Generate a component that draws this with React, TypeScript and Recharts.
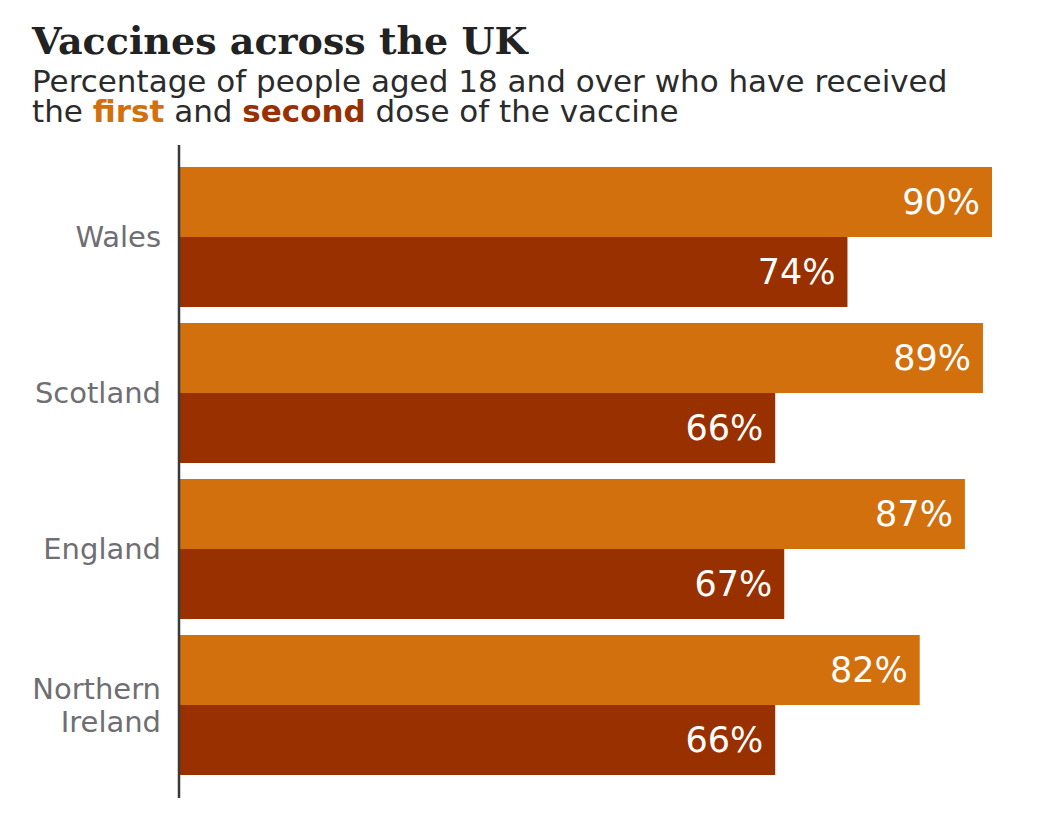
import React from 'react';
import { BarChart, Bar, XAxis, YAxis, LabelList } from 'recharts';

const categories = ['Wales', 'Scotland', 'England', 'Northern Ireland'];
const firstDose = [90, 89, 87, 82];
const secondDose = [74, 66, 67, 66];

const data = categories.map((name, i) => ({ name, first: firstDose[i], second: secondDose[i] }));

const ORANGE = '#d2700e';
const DARKRED = '#983000';
const SANS = '"DejaVu Sans", sans-serif';

const Tick = (props: any) => {
  const { x, y, payload } = props;
  const words = String(payload.value) === 'Northern Ireland' ? ['Northern', 'Ireland'] : [String(payload.value)];
  const lh = 33;
  const startDy = -((words.length - 1) * lh) / 2;
  return (
    <text x={x} y={y} textAnchor="end" fill="#6e6e73" fontFamily={SANS} fontSize={29} dominantBaseline="central">
      {words.map((w, i) => (
        <tspan key={w} x={x} dy={i === 0 ? startDy : lh}>{w}</tspan>
      ))}
    </text>
  );
};

export default function App() {
  return (
    <div style={{ position: 'absolute', left: 0, top: 0, width: 1057, height: 815, background: '#fff' }}>
      <div style={{ position: 'absolute', left: 32, top: 16, fontFamily: '"DejaVu Serif", serif', fontWeight: 700, fontSize: 38, color: '#222', whiteSpace: 'nowrap', lineHeight: '50px' }}>
        Vaccines across the UK
      </div>
      <div style={{ position: 'absolute', left: 32, top: 66, fontFamily: SANS, fontSize: 31, color: '#2b2b2b', lineHeight: '30px', whiteSpace: 'nowrap' }}>
        <div>Percentage of people aged 18 and over who have received</div>
        <div>the <b style={{ color: ORANGE }}>first</b> and <b style={{ color: DARKRED }}>second</b> dose of the vaccine</div>
      </div>
      <div style={{ position: 'absolute', left: 0, top: 0 }}>
        <BarChart
          width={1057}
          height={815}
          data={data}
          layout="vertical"
          margin={{ top: 145, right: 65, bottom: 17, left: 0 }}
          barCategoryGap={8}
          barGap={0}
        >
          <XAxis type="number" domain={[0, 90]} hide />
          <YAxis
            type="category"
            dataKey="name"
            width={179}
            padding={{ top: 14, bottom: 15 }}
            axisLine={{ stroke: '#3a3a3a', strokeWidth: 2.5 }}
            tickLine={false}
            tick={<Tick />}
            tickMargin={12}
          />
          <Bar dataKey="first" fill={ORANGE} isAnimationActive={false}>
            <LabelList dataKey="first" position="insideRight" offset={12} fill="#fff" fontFamily={SANS} fontSize={35} formatter={(v: any) => `${v}%`} />
          </Bar>
          <Bar dataKey="second" fill={DARKRED} isAnimationActive={false}>
            <LabelList dataKey="second" position="insideRight" offset={12} fill="#fff" fontFamily={SANS} fontSize={35} formatter={(v: any) => `${v}%`} />
          </Bar>
        </BarChart>
      </div>
    </div>
  );
}
